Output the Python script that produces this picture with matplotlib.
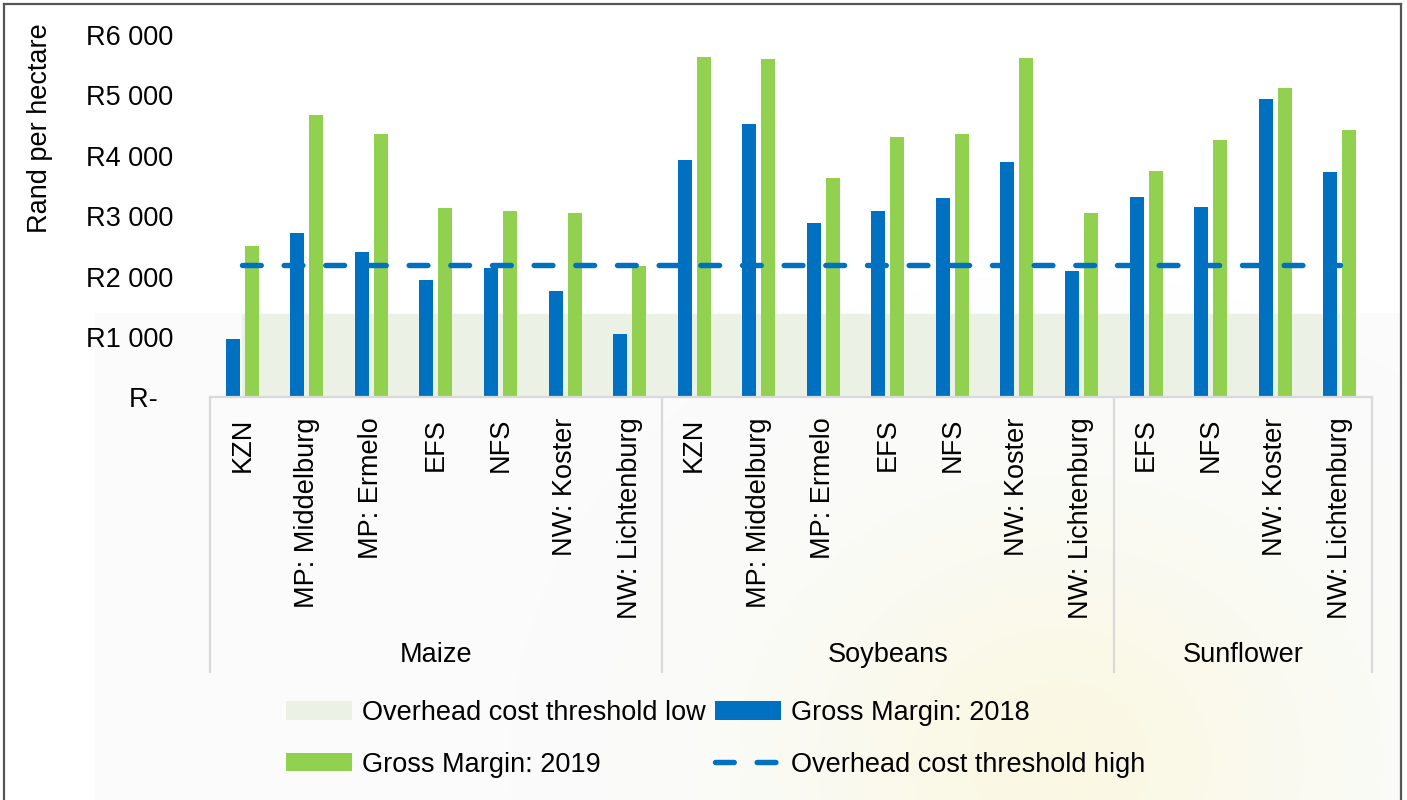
import numpy as np
import matplotlib
matplotlib.use("Agg")
import matplotlib.pyplot as plt
from matplotlib import font_manager
from matplotlib.patches import Rectangle
from matplotlib.lines import Line2D
from matplotlib.transforms import blended_transform_factory

# ---- data -------------------------------------------------------------
crops = ["Maize", "Soybeans", "Sunflower"]
regions = [
    ["KZN", "MP: Middelburg", "MP: Ermelo", "EFS", "NFS", "NW: Koster", "NW: Lichtenburg"],
    ["KZN", "MP: Middelburg", "MP: Ermelo", "EFS", "NFS", "NW: Koster", "NW: Lichtenburg"],
    ["EFS", "NFS", "NW: Koster", "NW: Lichtenburg"],
]
gross_margin_2018 = [968, 2728, 2403, 1945, 2143, 1763, 1046,
                     3931, 4527, 2883, 3087, 3297, 3893, 2089,
                     3319, 3148, 4935, 3738]
gross_margin_2019 = [2508, 4676, 4366, 3136, 3087, 3054, 2177,
                     5631, 5603, 3628, 4312, 4356, 5614, 3059,
                     3749, 4262, 5123, 4428]
overhead_low = 1390
overhead_high = 2190
y_ticks = [0, 1000, 2000, 3000, 4000, 5000, 6000]
y_tick_labels = ["R-  ", "R1 000", "R2 000", "R3 000", "R4 000", "R5 000", "R6 000"]

# ---- styling ------------------------------------------------------------
names = {f.name for f in font_manager.fontManager.ttflist}
if "Liberation Sans Narrow" in names:
    family, FS = "Liberation Sans Narrow", 21.5
else:
    family, FS = "Liberation Sans", 19.5
plt.rcParams["font.family"] = [family, "DejaVu Sans"]
plt.rcParams["lines.scale_dashes"] = False

BLUE = "#0070C0"
GREEN = "#92D050"
AREA = "#EBF2E5"
GRID = "#D9D9D9"

W, H = 1407, 800
fig = plt.figure(figsize=(W / 100, H / 100), dpi=100)
fig.patch.set_facecolor("white")

# soft backdrop and frame
fig.patches.append(Rectangle((95 / W, 0), (1400 - 95) / W, 1 - 313 / H,
                             transform=fig.transFigure, color="#FBFBFB", zorder=-3))
yy, xx = np.mgrid[0:H, 0:W]
glow = np.exp(-(((xx - 1060) / 260.0) ** 2 + ((yy - 760) / 230.0) ** 2))
rgba = np.zeros((H, W, 4))
rgba[..., 0] = 0.98
rgba[..., 1] = 0.96
rgba[..., 2] = 0.72
rgba[..., 3] = 0.35 * glow
fig.figimage(rgba, xo=0, yo=0, zorder=-2)
frame_kw = dict(transform=fig.transFigure, color="#555555", lw=1.6)
fig.lines.append(Line2D([4 / W, 4 / W], [0, 1 - 4 / H], **frame_kw))
fig.lines.append(Line2D([4 / W, 1401 / W], [1 - 4 / H, 1 - 4 / H], **frame_kw))
fig.lines.append(Line2D([1401 / W, 1401 / W], [0, 1 - 4 / H], **frame_kw))

ax = fig.add_axes([210 / W, 1 - 397.5 / H, (1372 - 210) / W, (397.5 - 35) / H])
ax.patch.set_alpha(0)

n = len(gross_margin_2018)
x = np.arange(n) + 0.5
ax.set_xlim(0, n)
ax.set_ylim(0, 6000)

area = ax.fill_between(x, 0, [overhead_low] * n, color=AREA, lw=0, zorder=1,
                       label="Overhead cost threshold low")
b18 = ax.bar(x - 0.147, gross_margin_2018, width=0.217, color=BLUE, zorder=2,
             label="Gross Margin: 2018")
b19 = ax.bar(x + 0.147, gross_margin_2019, width=0.217, color=GREEN, zorder=2,
             label="Gross Margin: 2019")
line, = ax.plot(x, [overhead_high] * n, color=BLUE, lw=3.9, zorder=3,
                dashes=(13.5, 16.5), dash_capstyle="round",
                label="Overhead cost threshold high")

for side in ["top", "right", "left"]:
    ax.spines[side].set_visible(False)
ax.spines["bottom"].set_color(GRID)
ax.spines["bottom"].set_linewidth(1.6)

ax.set_yticks(y_ticks)
ax.set_yticklabels(y_tick_labels, fontsize=FS)
ax.tick_params(axis="y", length=0, pad=26.5)

tick_labels = [r for grp in regions for r in grp]
ax.set_xticks(x)
ax.set_xticklabels(tick_labels, rotation=90, fontsize=FS, va="top", ha="center")
ax.tick_params(axis="x", length=0, pad=14.5)

# category grouping under the axis
bt = blended_transform_factory(ax.transData, fig.transFigure)
bounds = np.cumsum([0] + [len(g) for g in regions])
ax.vlines(bounds, 1 - 673 / H, 1 - 397.5 / H, transform=bt, colors=GRID,
          lw=1.6, clip_on=False, zorder=1)
for crop, lo, hi in zip(crops, bounds[:-1], bounds[1:]):
    ax.text((lo + hi) / 2, 1 - 655 / H, crop, transform=bt, ha="center",
            va="center", fontsize=FS)

fig.text(40 / W, 1 - 128 / H, "Rand per hectare", rotation=90, ha="center",
         va="center", fontsize=FS)

fig.legend(handles=[area, b19, b18, line],
           labels=[h.get_label() for h in [area, b19, b18, line]],
           ncol=2, loc="upper left", bbox_to_anchor=(286 / W, 1 - 700 / H),
           frameon=False, borderpad=0, borderaxespad=0, fontsize=FS,
           handlelength=2.45, handleheight=0.65, handletextpad=0.35,
           columnspacing=0.35, labelspacing=0.95)

fig.savefig("out.png", dpi=100)
